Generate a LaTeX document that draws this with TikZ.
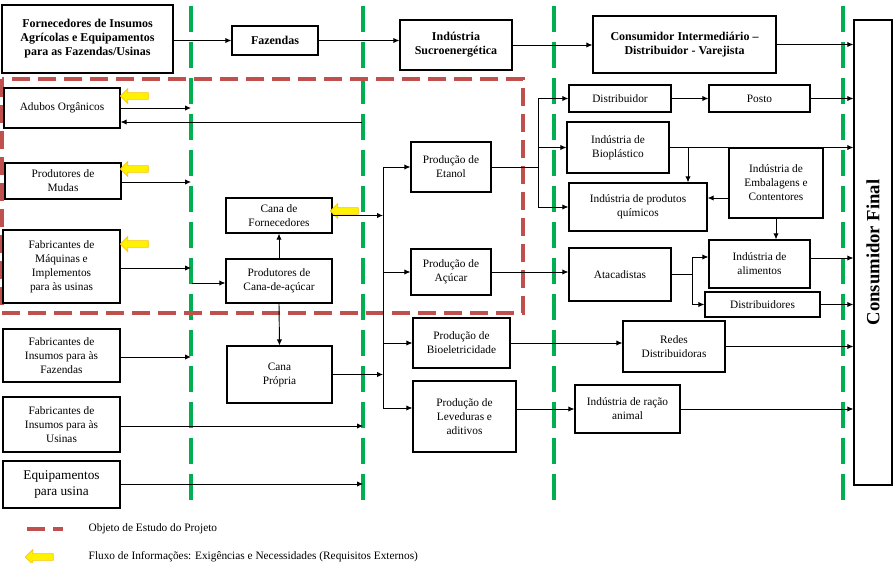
\documentclass[tikz,border=0pt]{standalone}
\usepackage{fontspec}
\setmainfont{Liberation Serif}
\usetikzlibrary{arrows.meta,shapes.arrows,calc}
\definecolor{sectorgreen}{RGB}{0,176,80}
\definecolor{studyred}{RGB}{192,80,77}
\begin{document}
\begin{tikzpicture}[x=0.75pt,y=-0.75pt,
    box/.style={draw,fill=white,line width=0.9pt,align=center,inner sep=1pt,
      font=\fontsize{8.5}{10.5}\selectfont},
    topbox/.style={box,font=\fontsize{9}{10.5}\selectfont\bfseries},
    sz/.style 2 args={minimum width=#1*0.75pt,minimum height=#2*0.75pt},
    flow/.style={-{Latex[length=4.5pt,width=4pt]},line width=0.7pt},
    link/.style={line width=0.7pt},
    infoarr/.style={single arrow,draw=yellow!55!orange,fill=yellow,line width=0.5pt,
      shape border rotate=180,inner sep=2.3pt,single arrow head extend=3pt,
      minimum width=10pt,minimum height=21pt},
    sector/.style={sectorgreen,line width=2.6pt,dash pattern=on 19.5pt off 7.5pt},
    study/.style={studyred,line width=3pt,dash pattern=on 13.5pt off 6pt}]
  \useasboundingbox (0,0) rectangle (896,563);

  % sector borders and object of study
  \foreach \gx in {191,363,554,843}
    \draw[sector] (\gx,6) -- (\gx,508);
  \draw[study] (2,79) rectangle (523,313);

  % top row
  \node[topbox,sz={171}{68}] (forn) at (87.5,39)
    {Fornecedores de Insumos\\Agrícolas e Equipamentos\\para as Fazendas/Usinas};
  \node[topbox,sz={86}{29}] (faz) at (275,40.5) {Fazendas};
  \node[topbox,sz={112}{50}] (indsuc) at (456,45) {Indústria\\Sucroenergética};
  \node[topbox,sz={183}{57}] (consint) at (684.5,44.5)
    {Consumidor Intermediário –\\Distribuidor - Varejista};
  \node[topbox,sz={38}{465}] (consfin) at (873,252.5) {};
  \node[rotate=90,font=\fontsize{14}{16}\selectfont\bfseries] (consfinlbl)
    at (consfin.center) {Consumidor Final};

  % suppliers
  \node[box,sz={116}{40}] (adubos) at (62,108) {Adubos Orgânicos};
  \node[box,sz={116}{36}] (mudas) at (63,181) {Produtores de\\Mudas};
  \node[box,sz={117}{73}] (maquinas) at (61.5,266.5)
    {Fabricantes de\\Máquinas e\\Implementos\\para às usinas};
  \node[box,sz={117}{53}] (insfaz) at (61.5,355.5)
    {Fabricantes de\\Insumos para às\\Fazendas};
  \node[box,sz={117}{55}] (insus) at (61.5,424.5)
    {Fabricantes de\\Insumos para às\\Usinas};
  \node[box,sz={117}{47},font=\fontsize{10}{12}\selectfont] (equip) at (61.5,484.5)
    {Equipamentos\\para usina};

  % cane
  \node[box,sz={106}{35}] (canaforn) at (279,215.5) {Cana de\\Fornecedores};
  \node[box,sz={106}{44}] (prodcana) at (279,281) {Produtores de\\Cana-de-açúcar};
  \node[box,sz={105}{57}] (canapro) at (279.5,374.5) {Cana\\Própria};

  % mill products
  \node[box,sz={80}{50}] (etanol) at (451,167) {Produção de\\Etanol};
  \node[box,sz={80}{46}] (acucar) at (451,272) {Produção de\\Açúcar};
  \node[box,sz={97}{50}] (bioel) at (461.5,343) {Produção de\\Bioeletricidade};
  \node[box,sz={103}{71}] (leved) at (464.5,416.5) {Produção de\\Leveduras e\\aditivos};

  % distribution
  \node[box,sz={102}{27}] (distrib) at (620,98.5) {Distribuidor};
  \node[box,sz={101}{27}] (posto) at (759.5,98.5) {Posto};
  \node[box,sz={102}{51}] (biopl) at (618,147.5) {Indústria de\\Bioplástico};
  \node[box,sz={138}{48}] (quim) at (638,207) {Indústria de produtos\\químicos};
  \node[box,sz={94}{70}] (embal) at (776,183) {Indústria de\\Embalagens e\\Contentores};
  \node[box,sz={102}{53}] (atac) at (620,274.5) {Atacadistas};
  \node[box,sz={101}{48}] (alim) at (759.5,264) {Indústria de\\alimentos};
  \node[box,sz={115}{25}] (distrs) at (762.5,304.5) {Distribuidores};
  \node[box,sz={102}{51}] (redes) at (674,346.5) {Redes\\Distribuidoras};
  \node[box,sz={105}{48}] (racao) at (627.5,409) {Indústria de ração\\animal};

  % information flow
  \node[infoarr] (info1) at (136,96) {};
  \node[infoarr] (info2) at (136,169) {};
  \node[infoarr] (info3) at (136,244) {};
  \node[infoarr] (info4) at (346,211) {};

  % top row flows
  \draw[flow] (forn.east |- faz.west) -- (faz.west);
  \draw[flow] (faz.east) -- (faz.east -| indsuc.west);
  \draw[flow] (indsuc.east) -- (indsuc.east -| consint.west);
  \draw[flow] (consint.east) -- (consint.east -| consfin.west);

  % supplier flows
  \coordinate (g1a) at (191,108);
  \coordinate (g1b) at (191,182);
  \coordinate (g1c) at (191,268);
  \coordinate (g1d) at (191,357);
  \coordinate (g1e) at (192,283);
  \coordinate (g2a) at (363,426);
  \coordinate (g2b) at (363,484);
  \coordinate (ret) at (362,122);
  \draw[flow] (adubos.east |- g1a) -- (g1a);
  \draw[flow] (ret) -- (ret -| adubos.east);
  \draw[flow] (mudas.east |- g1b) -- (g1b);
  \draw[flow] (maquinas.east |- g1c) -- (g1c);
  \draw[flow] (insfaz.east |- g1d) -- (g1d);
  \draw[flow] (insus.east |- g2a) -- (g2a);
  \draw[flow] (equip.east |- g2b) -- (g2b);
  \draw[flow] (g1e) -- (g1e -| prodcana.west);
  \draw[flow] (prodcana.north) -- (canaforn.south);
  \draw[flow] (prodcana.south) -- (canapro.north);

  % cane to mill
  \coordinate (trunk) at (383,0);
  \draw[flow] (canaforn.east) -- (canaforn.east -| trunk);
  \draw[flow] (canapro.east) -- (canapro.east -| trunk);
  \draw[link] (etanol.west -| trunk) -- (trunk |- 0,408);
  \draw[flow] (etanol.west -| trunk) -- (etanol.west);
  \draw[flow] (acucar.west -| trunk) -- (acucar.west);
  \draw[flow] (bioel.west -| trunk) -- (bioel.west);
  \draw[flow] (trunk |- 0,408) -- (leved.west |- 0,408);

  % ethanol
  \coordinate (ej) at (538,0);
  \draw[link] (etanol.east) -- (etanol.east -| ej);
  \draw[link] (distrib.west -| ej) -- (quim.west -| ej);
  \draw[flow] (distrib.west -| ej) -- (distrib.west);
  \draw[flow] (biopl.west -| ej) -- (biopl.west);
  \draw[flow] (quim.west -| ej) -- (quim.west);
  \draw[flow] (distrib.east) -- (posto.west);
  \draw[flow] (posto.east) -- (posto.east -| consfin.west);
  \draw[flow] (biopl.east) -- (biopl.east -| consfin.west);
  \coordinate (bj) at (688,147.5);
  \draw[flow] (bj) -- (bj |- quim.north);
  \draw[flow] ($(embal.west)+(0,15)$) -- ($(embal.west -| quim.east)+(0,15)$);
  \draw[flow] (embal.south) -- (embal.south |- alim.north);

  % sugar
  \coordinate (aj) at (692,0);
  \draw[flow] (acucar.east) -- (acucar.east -| atac.west);
  \draw[link] (atac.east) -- (atac.east -| aj);
  \draw[link] (aj |- 0,257) -- (aj |- distrs.west);
  \draw[flow] (aj |- 0,257) -- (alim.west |- 0,257);
  \draw[flow] (aj |- distrs.west) -- (distrs.west);
  \draw[flow] (alim.east |- 0,258) -- (consfin.west |- 0,258);
  \draw[flow] (distrs.east) -- (distrs.east -| consfin.west);

  % bioelectricity and yeast
  \draw[flow] (bioel.east) -- (bioel.east -| redes.west);
  \draw[flow] (redes.east) -- (redes.east -| consfin.west);
  \draw[flow] (racao.west -| leved.east) -- (racao.west);
  \draw[flow] (racao.east) -- (racao.east -| consfin.west);

  % legend
  \draw[study] (27,529) -- (63,529);
  \node[anchor=west,font=\fontsize{8.5}{10.5}\selectfont] (legstudy) at (84,529)
    {Objeto de Estudo do Projeto};
  \node[infoarr] (leginfo) at (41,557) {};
  \node[anchor=west,font=\fontsize{8.5}{10.5}\selectfont] (legflow) at (84,557)
    {Fluxo de Informações: Exigências e Necessidades (Requisitos Externos)};
\end{tikzpicture}
\end{document}
